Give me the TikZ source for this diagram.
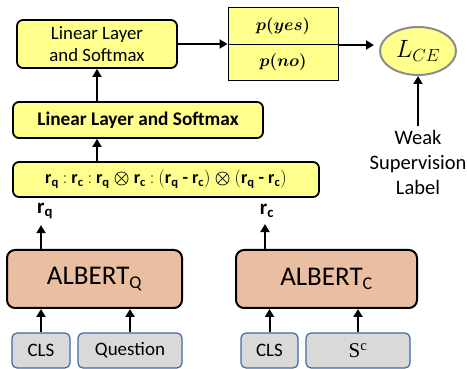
\RequirePackage{fix-cm}
\documentclass[tikz,border=0pt]{standalone}
\usepackage{fontspec}
\setmainfont{Carlito}
\newfontfamily\serifc{Liberation Serif}
\usepackage{amsmath,bm}
\usetikzlibrary{arrows.meta,shapes.geometric}
\definecolor{ylw}{HTML}{FFFF8C}
\definecolor{salmon}{HTML}{EABFA1}
\definecolor{gryfill}{HTML}{D9D9D9}
\definecolor{blueedge}{HTML}{3F6DA8}
\definecolor{elledge}{HTML}{8C8C8C}
\newcommand{\myrq}{\mathbf{r}_{\mathbf{q}}}
\newcommand{\myrc}{\mathbf{r}_{\mathbf{c}}}
\newcommand{\mysep}{\mathbin{\mathbf{:}}}
\newcommand{\mymin}{\mathbin{\mbox{\bfseries -}}}
\newcommand{\myotimes}{\mathbin{\bm{\otimes}}}
\newcommand{\concattext}{$\myrq \mysep \myrc \mysep \myrq \myotimes \myrc \mysep (\myrq \mymin \myrc) \myotimes (\myrq \mymin \myrc)$}
\begin{document}
\begin{tikzpicture}[x=1pt,y=-1pt,
  ybox/.style={draw=black,line width=1.8pt,fill=ylw,rounded corners=6pt,inner sep=0pt},
  pcell/.style={draw=black,line width=1pt,fill=ylw,inner sep=0pt,minimum width=110pt,minimum height=36.5pt,font=\fontsize{17}{19}\selectfont},
  albox/.style={draw=black,line width=2pt,fill=salmon,rounded corners=8pt,inner sep=0pt,minimum height=58pt,font=\fontsize{27}{30}\selectfont},
  inbox/.style={draw=blueedge,line width=1.2pt,fill=gryfill,rounded corners=5pt,inner sep=0pt,minimum height=35pt,font=\fontsize{19}{20}\selectfont},
  rlab/.style={inner sep=0pt,font=\fontsize{21}{22}\selectfont},
  arr/.style={line width=2pt,-{Triangle[length=8pt,width=9pt]}}]
\useasboundingbox (0,0) rectangle (467,369);
% top row
\node[ybox,align=center,minimum width=160pt,minimum height=48pt,font=\fontsize{18.8}{22}\selectfont] (lin1) at (97,44) {Linear Layer\\and Softmax};
\node[pcell] (pyes) at (283,26.25) {$\bm{p(yes)}$};
\node[pcell] (pno) at (283,62.75) {$\bm{p(no)}$};
\node[ellipse,draw=elledge,line width=2pt,fill=ylw,minimum width=76pt,minimum height=48pt,inner sep=0pt,font=\fontsize{25}{27}\selectfont] (lce) at (418,51) {$L_{CE}$};
\node[align=center,font=\fontsize{20.5}{25}\selectfont] (weak) at (418,162) {Weak\\Supervision\\Label};
% middle
\node[ybox,minimum width=250pt,minimum height=36pt,font=\bfseries\fontsize{19.3}{21}\selectfont] (lin2) at (138,120) {Linear Layer and Softmax};
\node[ybox,minimum width=306pt,minimum height=35pt,font=\fontsize{18}{19}\selectfont] (concat) at (166,179.5) {\concattext};
\node[rlab] (rq) at (45,211) {$\myrq$};
\node[rlab] (rc) at (267,211) {$\myrc$};
% ALBERT
\node[albox,minimum width=175pt] (albq) at (94.5,279) {ALBERT\textsubscript{\fontsize{18}{18}\selectfont Q}};
\node[albox,minimum width=181pt] (albc) at (326.5,279) {ALBERT\textsubscript{\fontsize{18}{18}\selectfont C}};
% inputs
\node[inbox,minimum width=58pt] (cls1) at (41,350.5) {CLS};
\node[inbox,minimum width=104pt] (ques) at (130,350.5) {Question};
\node[inbox,minimum width=57pt] (cls2) at (269.5,350.5) {CLS};
\node[inbox,minimum width=104pt,font=\serifc\fontsize{21}{21}\selectfont] (sc) at (358,350.5) {S\textsuperscript{c}};
% arrows
\draw[arr] (cls1.north) -- (cls1.north |- albq.south);
\draw[arr] (ques.north) -- (ques.north |- albq.south);
\draw[arr] (cls2.north) -- (cls2.north |- albc.south);
\draw[arr] (sc.north) -- (sc.north |- albc.south);
\draw[arr] ([xshift=-4pt]rq.south |- albq.north) -- ([xshift=-4pt,yshift=-6pt]rq.south);
\draw[arr] ([xshift=-2pt]rc.south |- albc.north) -- ([xshift=-2pt,yshift=-6pt]rc.south);
\coordinate (vx) at (97,0);
\draw[arr] (concat.north -| vx) -- (lin2.south -| vx);
\draw[arr] (lin2.north -| vx) -- (lin1.south -| vx);
\draw[arr] (lin1.east) -- (lin1.east -| pyes.west);
\draw[arr,shorten >=5pt] (pyes.south east) -- (lce.west |- pyes.south east);
\draw[arr] (weak.north) -- (lce.south);
\end{tikzpicture}
\end{document}
